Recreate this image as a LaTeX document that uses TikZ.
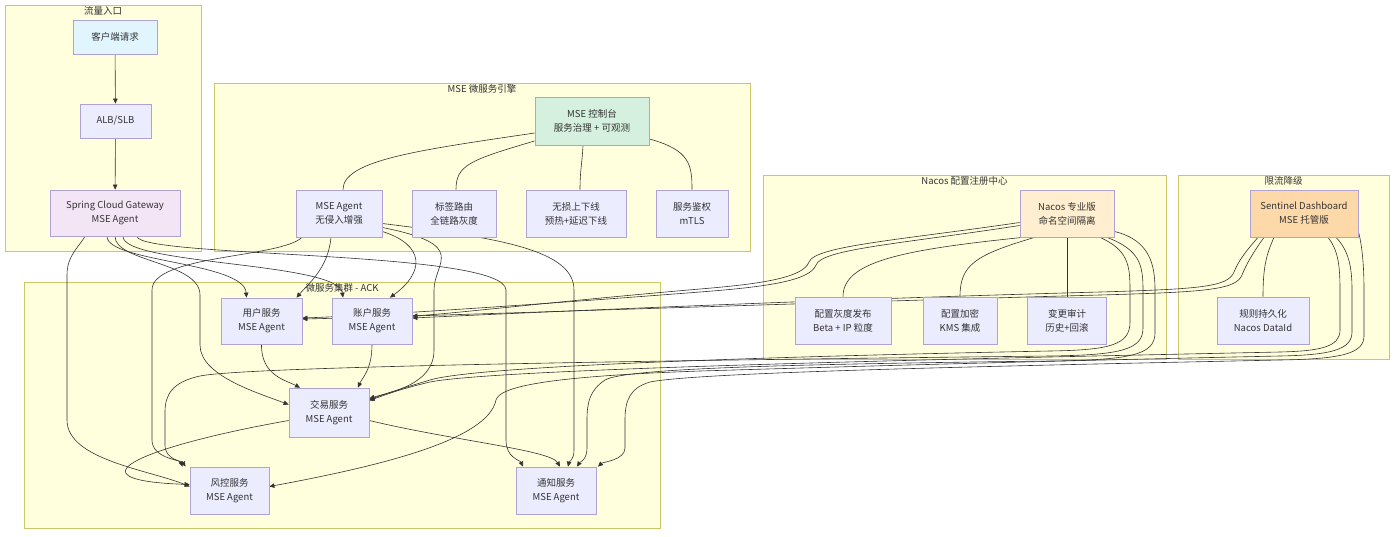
\documentclass[tikz,border=0pt]{standalone}
\usepackage{fontspec}
\setmainfont{Noto Sans CJK SC}
\usetikzlibrary{arrows.meta}
\definecolor{grpfill}{HTML}{FFFFDE}
\definecolor{grpline}{HTML}{C8C86A}
\definecolor{boxfill}{HTML}{ECECFF}
\definecolor{boxline}{HTML}{AFA3D6}
\definecolor{wire}{HTML}{333333}
\definecolor{clientfill}{HTML}{E1F5FE}
\definecolor{gwfill}{HTML}{F3E5F5}
\definecolor{consolefill}{HTML}{D5F0DE}
\definecolor{nacosfill}{HTML}{FFEFD0}
\definecolor{sentfill}{HTML}{FDD9AA}
\pgfdeclarelayer{grplayer}
\pgfdeclarelayer{wirelayer}
\pgfsetlayers{grplayer,wirelayer,main}
\tikzset{
  box/.style={draw=boxline, fill=boxfill, line width=0.8pt, align=center, text=wire,
    font=\fontsize{9.5}{14}\selectfont, inner sep=0pt},
  sz/.style 2 args={minimum width=#1pt, minimum height=#2pt},
  grp/.style={draw=grpline, fill=grpfill, line width=0.8pt},
  grptitle/.style={anchor=north, text=wire, font=\fontsize{9.5}{12}\selectfont, inner sep=1pt},
  flow/.style={draw=wire, line width=0.6pt, -{Triangle[length=5pt,width=4.5pt]}},
  link/.style={draw=wire, line width=0.6pt},
}
\begin{document}
\begin{tikzpicture}[x=1pt,y=-1pt]
\begin{pgfonlayer}{grplayer}
\fill[white] (0,0) rectangle (1400,536);
\draw[grp] (5,5) rectangle (201,251);
\draw[grp] (214,83) rectangle (750,251);
\draw[grp] (763,175) rectangle (1166,359);
\draw[grp] (1178,175) rectangle (1389,359);
\draw[grp] (24,282) rectangle (660,528);
\end{pgfonlayer}
\useasboundingbox (0,0) rectangle (1400,536);
\node[grptitle] (entrytitle) at (103,5) {流量入口};
\node[grptitle] (msetitle) at (482,83) {MSE 微服务引擎};
\node[grptitle] (nacostitle) at (964.5,175) {Nacos 配置注册中心};
\node[grptitle] (limittitle) at (1283.5,175) {限流降级};
\node[grptitle] (acktitle) at (342,282) {微服务集群 - ACK};
\node[box, sz={84}{34}, fill=clientfill] (client) at (115,37) {客户端请求};
\node[box, sz={71}{34}] (lb) at (115.5,121) {ALB/SLB};
\node[box, sz={130}{46}, fill=gwfill] (gw) at (115,213) {Spring Cloud Gateway\\MSE Agent};
\node[box, sz={114}{48}, fill=consolefill] (console) at (592,121) {MSE 控制台\\服务治理 + 可观测};
\node[box, sz={86}{47}] (agent) at (339,213.5) {MSE Agent\\无侵入增强};
\node[box, sz={84}{47}] (tag) at (454,213.5) {标签路由\\全链路灰度};
\node[box, sz={100}{47}] (lossless) at (576,213.5) {无损上下线\\预热+延迟下线};
\node[box, sz={72}{47}] (auth) at (692,213.5) {服务鉴权\\mTLS};
\node[box, sz={94}{47}, fill=nacosfill] (nacos) at (1067,213.5) {Nacos 专业版\\命名空间隔离};
\node[box, sz={96}{47}] (grayconf) at (843,320.5) {配置灰度发布\\Beta + IP 粒度};
\node[box, sz={74}{47}] (encrypt) at (960,320.5) {配置加密\\KMS 集成};
\node[box, sz={79}{47}] (audit) at (1067,320.5) {变更审计\\历史+回滚};
\node[box, sz={108}{47}, fill=sentfill] (sentinel) at (1304,213.5) {Sentinel Dashboard\\MSE 托管版};
\node[box, sz={92}{47}] (rules) at (1263,320.5) {规则持久化\\Nacos DataId};
\node[box, sz={81}{46}] (user) at (261.5,321) {用户服务\\MSE Agent};
\node[box, sz={80}{46}] (account) at (372,321) {账户服务\\MSE Agent};
\node[box, sz={80}{49}] (trade) at (329,412.5) {交易服务\\MSE Agent};
\node[box, sz={79}{47}] (risk) at (229.5,490.5) {风控服务\\MSE Agent};
\node[box, sz={80}{47}] (notify) at (556,490.5) {通知服务\\MSE Agent};
\begin{pgfonlayer}{wirelayer}
\draw[flow] (client) -- (lb);
\draw[flow] (lb) -- (gw);
\draw[flow] ([xshift=-30pt]gw.south) .. controls (78,248) and (67,256) .. (67,275) -- (67,420) .. controls (67,460) and (150,470) .. ([yshift=4pt]risk.west);
\draw[flow] ([xshift=-8pt]gw.south) .. controls (107,262) and (244,262) .. ([xshift=-15pt]user.north);
\draw[flow] (gw.south) .. controls (115,262) and (200,262) .. (200,295) -- (200,345) .. controls (200,375) and (255,392) .. ([yshift=8pt]trade.west);
\draw[flow] ([xshift=8pt]gw.south) .. controls (123,265) and (338,262) .. ([xshift=-29pt]account.north);
\draw[flow] ([xshift=22pt]gw.south) .. controls (140,258) and (505,250) .. (506,290) -- (506,440) .. controls (506,458) and (520,460) .. ([xshift=-33pt]notify.north);
\draw[flow] ([xshift=-37pt]agent.south) .. controls (280,258) and (152,255) .. (152,290) -- (152,440) .. controls (152,458) and (180,460) .. ([xshift=-47pt]risk.north);
\draw[flow] ([xshift=-8pt]agent.south) .. controls (328,268) and (310,282) .. ([xshift=35pt]user.north);
\draw[flow] ([yshift=-18pt]agent.east) .. controls (425,245) and (425,272) .. ([xshift=18pt]account.north);
\draw[flow] ([yshift=-14pt]agent.east) .. controls (470,245) and (434,262) .. (434,290) -- (434,350) .. controls (434,385) and (390,392) .. ([yshift=14pt]trade.east);
\draw[flow] ([yshift=-10pt]agent.east) .. controls (500,238) and (574,250) .. (574,290) -- (574,450) .. controls (574,460) and (569,462) .. ([xshift=12pt]notify.north);
\draw[flow] (user.south) .. controls (261,375) and (285,380) .. ([xshift=-29pt]trade.north);
\draw[flow] (account.south) .. controls (372,370) and (362,378) .. ([xshift=29pt]trade.north);
\draw[flow] ([yshift=-8pt]trade.west) .. controls (150,445) and (60,480) .. ([yshift=6pt]risk.west);
\draw[flow] ([yshift=-8pt]trade.east) .. controls (450,440) and (550,450) .. ([xshift=4pt]notify.north);
\draw[link] ([yshift=-12pt]console.west) .. controls (420,150) and (343,160) .. ([xshift=4pt]agent.north);
\draw[link] ([yshift=-20pt]console.west) .. controls (470,160) and (456,165) .. ([xshift=2pt]tag.north);
\draw[link] ([xshift=-9pt]console.south) .. controls (582,165) and (580,170) .. ([xshift=4pt]lossless.north);
\draw[link] ([yshift=-18pt]console.east) .. controls (690,150) and (692,165) .. (auth.north);
\draw[link] ([xshift=3pt]nacos.south west) .. controls (900,250) and (843,262) .. (grayconf.north);
\draw[link] ([xshift=15pt]nacos.south west) .. controls (975,255) and (960,265) .. (encrypt.north);
\draw[link] (nacos.south) -- (audit.north);
\draw[link] ([xshift=-30pt]sentinel.south) .. controls (1266,255) and (1263,268) .. (rules.north);
\draw[flow] ([yshift=-9pt]nacos.west) .. controls (900,240) and (815,246) .. (809,262) .. controls (803,278) and (760,284) .. (700,289) .. controls (560,301) and (460,313) .. ([yshift=5pt]account.east);
\draw[flow] ([yshift=-12pt]nacos.west) .. controls (900,244) and (822,249) .. (816,265) .. controls (810,281) and (765,287) .. (700,292) .. controls (520,306) and (360,316) .. ([yshift=3pt]user.east);
\draw[flow] ([xshift=-46pt]sentinel.south) .. controls (1245,252) and (1238,262) .. (1234,272) .. controls (1228,287) and (1200,289) .. (1100,292) .. controls (800,300) and (500,314) .. ([yshift=3pt]account.east);
\draw[flow] ([xshift=-40pt]sentinel.south) .. controls (1252,254) and (1246,265) .. (1242,275) .. controls (1236,290) and (1205,292) .. (1100,295) .. controls (800,303) and (400,317) .. ([yshift=2pt]user.east);
\draw[flow] ([xshift=33pt]nacos.south) .. controls (1128,250) and (1130,265) .. (1130,290) -- (1130,322) .. controls (1130,345) and (1110,350) .. (1050,351) .. controls (800,356) and (480,365) .. (430,380) .. controls (400,389) and (385,394) .. ([yshift=13pt]trade.east);
\draw[flow] ([xshift=40pt]nacos.south) .. controls (1140,250) and (1143,265) .. (1143,290) -- (1143,328) .. controls (1143,350) and (1120,355) .. (1050,356) .. controls (700,360) and (250,366) .. (200,376) .. controls (172,382) and (165,395) .. (165,412) -- (165,445) .. controls (165,460) and (182,461) .. ([xshift=-44pt]risk.north);
\draw[flow] ([yshift=-18pt]nacos.east) .. controls (1150,240) and (1155,265) .. (1155,290) -- (1155,333) .. controls (1155,355) and (1130,360) .. (1050,361) .. controls (800,364) and (625,368) .. (605,380) .. controls (590,390) and (587,402) .. (587,420) -- (587,448) .. controls (587,460) and (580,462) .. ([xshift=21pt]notify.north);
\draw[flow] ([xshift=24pt]sentinel.south) .. controls (1338,250) and (1340,265) .. (1340,290) -- (1340,330) .. controls (1340,347) and (1320,351) .. (1280,352) .. controls (1000,358) and (500,368) .. (430,382) .. controls (400,389) and (385,395) .. ([yshift=12pt]trade.east);
\draw[flow] ([xshift=32pt]sentinel.south) .. controls (1348,250) and (1352,265) .. (1352,290) -- (1352,332) .. controls (1352,350) and (1330,355) .. (1280,356) .. controls (1000,362) and (800,368) .. (700,371) .. controls (560,376) and (500,385) .. (496,400) .. controls (488,440) and (380,466) .. ([yshift=4pt]risk.east);
\draw[flow] ([yshift=-18pt]sentinel.east) .. controls (1362,245) and (1364,265) .. (1364,290) -- (1364,336) .. controls (1364,354) and (1340,359) .. (1280,360) .. controls (1000,366) and (700,372) .. (650,382) .. controls (630,388) and (625,400) .. (625,420) -- (625,448) .. controls (625,460) and (603,462) .. ([xshift=42pt]notify.north);
\end{pgfonlayer}
\end{tikzpicture}
\end{document}
